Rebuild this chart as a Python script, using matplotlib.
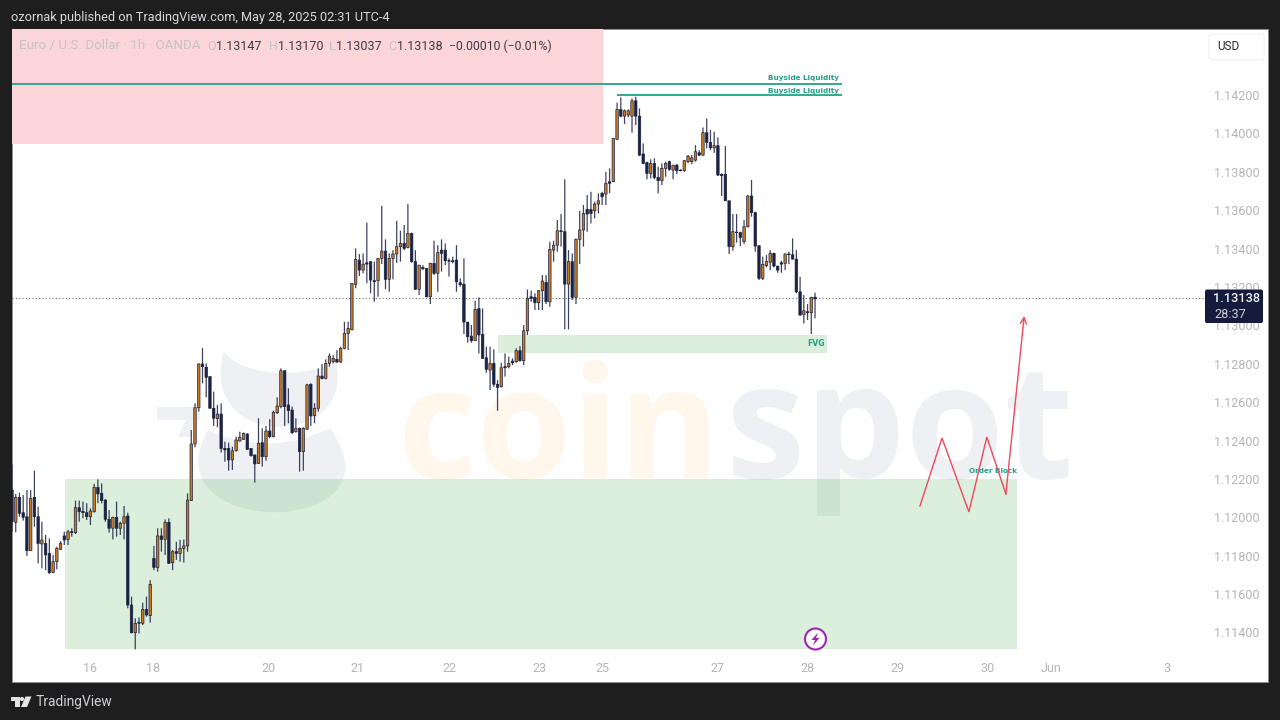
import numpy as np
import matplotlib
matplotlib.use("Agg")
import matplotlib.pyplot as plt
from matplotlib.patches import Rectangle, FancyBboxPatch, Polygon, PathPatch, Circle
from matplotlib.path import Path

# hourly EUR/USD bars, price x 100000
open_pts = [
112142,111974,112104,112024,112003,111826,112104,112003,111861,111864,
111812,111712,111769,111833,111903,111885,111925,111920,112050,112031,
112024,112003,112029,112156,112125,112090,111990,111943,112000,111943,
111969,112007,111543,111399,111453,111448,111520,111488,111786,111739,
111903,111885,111974,111764,111821,111812,111838,111851,112087,112382,
112571,112799,112782,112733,112568,112514,112538,112359,112359,112299,
112348,112398,112406,112434,112359,112325,112281,112389,112316,112450,
112420,112545,112577,112764,112585,112559,112446,112464,112342,112459,
112693,112530,112568,112736,112724,112802,112811,112823,112809,112880,
112958,112976,113214,113340,113288,113326,113332,113233,113233,113349,
113387,113240,113349,113372,113410,113427,113406,113479,113332,113188,
113302,113297,113149,113323,113271,113392,113392,113337,113337,113340,
113222,113214,113017,112944,112920,113087,112953,112831,112767,112802,
112693,112680,112785,112785,112814,112811,112868,112816,112972,113149,
113146,113118,113181,113224,113123,113392,113418,113493,113488,113215,
113332,113146,113448,113497,113604,113604,113597,113632,113688,113684,
113748,113748,113969,114125,114090,114096,114090,114170,114090,113893,
113848,113792,113844,113771,113754,113818,113853,113809,113835,113809,
113806,113853,113853,113861,113899,113887,114004,113953,113925,113936,
113787,113787,113649,113410,113486,113483,113436,113514,113674,113587,
113415,113245,113311,113329,113375,113309,113326,113323,113372,113368,
113345,113175,113057,113071,113066,113147]
high_pts = [
112273,112122,112128,112116,112142,112142,112243,112055,111977,111908,
111890,111804,111847,111877,111925,111934,111943,112087,112087,112082,
112073,112047,112174,112198,112177,112094,112038,112003,112082,111977,
112059,112024,111587,111474,111479,111555,111587,111673,111851,111943,
111943,111989,111995,111830,111873,111882,111885,112125,112455,112594,
112802,112881,112802,112733,112655,112585,112594,112394,112389,112368,
112420,112446,112441,112438,112359,112325,112516,112464,112476,112511,
112556,112625,112776,112764,112672,112577,112516,112467,112469,112695,
112698,112594,112776,112799,112823,112854,112845,112871,112889,113019,
113019,113219,113401,113372,113375,113535,113332,113332,113349,113622,
113448,113375,113392,113545,113493,113523,113632,113483,113392,113314,
113314,113297,113326,113441,113418,113448,113427,113349,113358,113418,
113245,113349,113017,113002,113128,113146,113088,112889,112889,112875,
112715,112805,112854,112837,112828,112880,112892,113002,113187,113181,
113167,113181,113262,113262,113436,113441,113549,113580,113761,113392,
113375,113453,113597,113627,113679,113696,113644,113688,113696,113800,
113818,113974,114160,114188,114125,114125,114182,114191,114130,113948,
113853,113865,113870,113827,113844,113853,113858,113835,113840,113813,
113861,113887,113887,113939,113913,114031,114078,114018,114009,113979,
113792,113934,113649,113580,113580,113488,113549,113679,113757,113592,
113415,113358,113366,113392,113379,113309,113337,113375,113384,113453,
113392,113253,113158,113111,113149,113170]
low_pts = [
111925,111922,112003,111983,111798,111826,111951,111760,111734,111725,
111705,111708,111729,111830,111856,111856,111899,111913,111977,111995,
111986,111960,112024,112073,112073,111977,111920,111885,111899,111908,
111885,111526,111395,111312,111395,111439,111482,111451,111725,111717,
111821,111804,111757,111725,111778,111769,111764,111821,112087,112365,
112551,112698,112625,112568,112476,112469,112337,112290,112243,112247,
112342,112394,112403,112351,112316,112181,112278,112264,112295,112412,
112417,112538,112568,112476,112490,112434,112441,112238,112243,112455,
112476,112490,112551,112719,112719,112785,112802,112805,112805,112875,
112871,112976,113193,113257,113271,113219,113167,113123,113149,113319,
113188,113175,113240,113326,113332,113392,113401,113326,113184,113158,
113288,113146,113111,113262,113175,113280,113314,113254,113323,113175,
113201,112955,112910,112910,112920,112854,112828,112753,112663,112680,
112555,112677,112733,112776,112793,112805,112811,112793,112950,113123,
113080,113080,113080,113111,113097,113332,113384,113410,112979,112979,
113132,113111,113319,113410,113488,113531,113557,113583,113627,113627,
113688,113748,113965,114084,114049,114084,114004,114044,113882,113840,
113761,113766,113761,113688,113731,113774,113806,113761,113788,113802,
113800,113844,113840,113853,113882,113882,113922,113913,113899,113778,
113674,113649,113372,113389,113431,113413,113424,113510,113566,113384,
113236,113236,113302,113288,113302,113274,113274,113288,113319,113344,
113167,113049,113010,113028,112955,113037]
close_pts = [
111977,112104,112021,112000,111826,112099,112003,111864,111882,111804,
111712,111769,111838,111864,111882,111925,111920,112050,112029,112024,
112003,112033,112156,112122,112087,111990,111943,112000,111943,111969,
112003,111543,111399,111448,111448,111520,111491,111651,111739,111903,
111885,111974,111760,111821,111812,111838,111851,112090,112382,112571,
112799,112785,112729,112568,112516,112538,112359,112351,112299,112346,
112403,112417,112438,112354,112321,112278,112386,112316,112450,112420,
112547,112580,112764,112577,112556,112441,112464,112342,112464,112690,
112528,112568,112736,112723,112802,112840,112828,112809,112880,112958,
112984,113219,113344,113288,113319,113319,113236,113227,113349,113387,
113240,113349,113372,113410,113427,113401,113479,113332,113188,113314,
113295,113149,113323,113271,113379,113375,113337,113334,113332,113227,
113212,113017,112941,112920,113083,112950,112828,112771,112802,112693,
112677,112779,112779,112802,112805,112868,112816,112972,113141,113141,
113118,113181,113231,113123,113396,113418,113493,113488,113215,113332,
113146,113448,113497,113583,113580,113583,113632,113649,113670,113740,
113740,113974,114125,114090,114118,114118,114170,114090,113887,113844,
113792,113844,113771,113754,113818,113844,113813,113835,113806,113806,
113858,113882,113873,113905,113887,114004,113953,113925,113936,113783,
113780,113649,113410,113488,113483,113458,113514,113674,113587,113413,
113245,113318,113332,113375,113309,113288,113319,113372,113368,113345,
113175,113054,113076,113066,113146,113138]

# axis labels
price_ticks = [1.142, 1.140, 1.138, 1.136, 1.134, 1.132, 1.130, 1.128,
               1.126, 1.124, 1.122, 1.120, 1.118, 1.116, 1.114]
date_labels = ["16", "18", "20", "21", "22", "23", "25", "27", "28", "29", "30", "Jun", "3"]
date_bars = [20.9, 37.8, 68.8, 92.6, 117.0, 141.1, 158.2, 189.0, 213.0, 237.2, 261.3, 278.2, 309.2]

# analyst drawings (bar number, price)
zigzag_bars = [243.1, 249.0, 256.2, 261.0, 266.1, 271.0]
zigzag_prices = [1.12059, 1.12413, 1.12028, 1.12418, 1.12121, 1.13049]
last_price = 1.13138

NAVY = "#1b2242"
ORANGE = "#c97a1e"
TEAL = "#22a08a"
RED = "#f0485c"
W, H = 1280, 720
FONT = "Roboto"

fig = plt.figure(figsize=(12.8, 7.2), dpi=100, facecolor="#1e1e1e")


def pixel_axes(z):
    a = fig.add_axes([0, 0, 1, 1], zorder=z)
    a.set_xlim(0, W)
    a.set_ylim(H, 0)
    a.axis("off")
    a.patch.set_alpha(0)
    return a


back = pixel_axes(0)
top = pixel_axes(5)

back.add_patch(Rectangle((12, 29), 1256, 653, fc="white", ec="#8c8c8c", lw=0.7))

# watermark
GR = "#eef0f3"
MOVE, CUR = Path.MOVETO, Path.CURVE4
up = Path([(224, 352), (245, 378), (305, 378), (336, 362), (356, 450), (196, 450), (224, 352)],
          [MOVE, CUR, CUR, CUR, CUR, CUR, CUR])
low = Path([(208, 430), (145, 540), (410, 540), (330, 428), (290, 448), (250, 448), (208, 430)],
           [MOVE, CUR, CUR, CUR, CUR, CUR, CUR])
back.add_patch(PathPatch(up, fc=GR, ec="none"))
back.add_patch(PathPatch(low, fc=GR, ec="none"))
back.add_patch(Polygon([(157, 407), (200, 407), (200, 420), (193, 420), (191, 437), (178, 437),
                        (186, 420), (157, 420)], fc=GR, ec="none"))
back.text(397, 478, "coin", fontsize=111, family="Open Sans", weight="bold",
          color="#fff6ec", ha="left", va="baseline")
back.text(726, 478, "spot", fontsize=115, family="Open Sans", weight="bold",
          color=GR, ha="left", va="baseline")

# main chart
ax = fig.add_axes([12 / W, (H - 682) / H, 1256 / W, 653 / H], zorder=2)
ax.patch.set_alpha(0)
ax.set_xlim(0, 336.28)
ax.set_ylim(1.11142, 1.14544)
for s in ax.spines.values():
    s.set_visible(False)

o = np.array(open_pts) / 1e5
c = np.array(close_pts) / 1e5
h = np.maximum(np.array(high_pts) / 1e5, np.maximum(o, c))
l = np.minimum(np.array(low_pts) / 1e5, np.minimum(o, c))
bars = np.arange(len(o))
up_bar = c >= o

# zones
ax.axvspan(0, 158.2, ymin=(1.13945 - 1.11142) / (1.14544 - 1.11142), ymax=1,
           fc="#fcd5d8", ec="none", zorder=1)
ax.add_patch(Rectangle((14.2, 1.11314), 254.8, 1.12197 - 1.11314, fc="#4caf50", alpha=0.2, ec="none", zorder=1))
ax.add_patch(Rectangle((130, 1.12856), 88.2, 1.1295 - 1.12856, fc="#4caf50", alpha=0.2, ec="none", zorder=1))

ax.hlines(last_price + 0.00004, 0, 319.4, color="#6f6f6f", lw=0.8, linestyles=(0, (1, 2)), zorder=2)

# candles
wicks = ax.vlines(bars, l, h, color=NAVY, lw=0.9, zorder=3, alpha=0.85)
wicks.set_snap(False)
rects = ax.bar(bars, np.abs(c - o), bottom=np.minimum(o, c), width=0.66,
               color=[ORANGE if u else NAVY for u in up_bar], edgecolor=NAVY, linewidth=0.5, zorder=4)
for r in rects:
    r.set_snap(False)

# liquidity lines
ax.hlines(1.14257, 0, 222.2, color=TEAL, lw=1.3, zorder=5)
ax.hlines(1.14200, 162, 222.2, color=TEAL, lw=1.3, zorder=5)
ax.text(221.4, 1.14257 + 0.00014, "Buyside Liquidity", fontsize=5.2, weight="bold", family="DejaVu Sans",
        color=TEAL, ha="right", va="bottom", zorder=6)
ax.text(221.4, 1.14200 + 0.00007, "Buyside Liquidity", fontsize=5.2, weight="bold", family="DejaVu Sans",
        color=TEAL, ha="right", va="bottom", zorder=6)
ax.text(217.6, 1.12903, "FVG", fontsize=5.6, weight="bold", family="DejaVu Sans",
        color=TEAL, ha="right", va="center", zorder=6)
ax.text(269, 1.12240, "Order Block", fontsize=5.2, weight="bold", family="DejaVu Sans",
        color=TEAL, ha="right", va="center", zorder=6)

# projected path
ax.plot(zigzag_bars[:-1], zigzag_prices[:-1], color=RED, lw=1.0, zorder=7, solid_joinstyle="miter")
ax.annotate("", xy=(zigzag_bars[-1], zigzag_prices[-1]), xytext=(zigzag_bars[-2], zigzag_prices[-2]),
            arrowprops=dict(arrowstyle="->,head_width=0.22,head_length=0.45", color=RED, lw=1.0,
                            shrinkA=0, shrinkB=0), zorder=7)

# axes
ax.yaxis.tick_right()
ax.set_yticks(price_ticks)
ax.set_yticklabels([f"{v:.5f}" for v in price_ticks], fontsize=9, family=FONT, color="#b5b5b5")
ax.tick_params(axis="y", length=0, pad=-39)
ax.set_xticks(date_bars)
ax.set_xticklabels(date_labels, fontsize=9, family=FONT, color="#b5b5b5")
ax.tick_params(axis="x", length=0, pad=-14.5)

# header and footer
top.text(11, 17, "ozornak published on TradingView.com, May 28, 2025 02:31 UTC-4",
         fontsize=9.15, family=FONT, color="#d6d8de", va="center", ha="left")
top.text(36, 702, "TradingView", fontsize=9.9, family=FONT, color="#cfd1d6", va="center", ha="left")
top.add_patch(Polygon([(11, 696.5), (19.5, 696.5), (19.5, 707), (15, 707), (15, 701), (11, 701)], fc="#e4e4e4", ec="none"))
top.add_patch(Circle((22, 699), 2.1, fc="#e4e4e4", ec="none"))
top.add_patch(Polygon([(25.5, 696.5), (31.5, 696.5), (27, 707), (21, 707)], fc="#e4e4e4", ec="none"))

# OHLC legend
LG, DK = "#c4c4c4", "#3b3b45"
for x, t, col, fs in [(19, "Euro / U.S. Dollar · 1h · OANDA", LG, 9.6), (207, "O", LG, 9), (216, "1.13147", DK, 9),
                      (269, "H", LG, 9), (278, "1.13170", DK, 9), (329, "L", LG, 9), (336, "1.13037", DK, 9),
                      (388, "C", LG, 9), (397, "1.13138", DK, 9), (449, "−0.00010 (−0.01%)", DK, 8.8)]:
    top.text(x, 46, t, fontsize=fs, family=FONT, color=col, va="center", ha="left")

# USD button
top.add_patch(FancyBboxPatch((1209, 34), 55, 26, boxstyle="round,pad=0,rounding_size=3", fc="white", ec="#f0f0f0", lw=0.8))
top.text(1217, 46.5, "USD", fontsize=8.5, family=FONT, color="#26262e", va="center", ha="left")

# last price tag
top.add_patch(FancyBboxPatch((1205, 289.5), 58, 33.5, boxstyle="round,pad=0,rounding_size=2", fc="#141b3c", ec="none"))
top.text(1236.5, 299, f"{last_price:.5f}", fontsize=9.2, family=FONT, weight="medium", color="#f2f2f5", va="center", ha="center")
top.text(1214, 314.5, "28:37", fontsize=9.2, family=FONT, color="#cfd0d8", va="center", ha="left")

# event marker
top.add_patch(Circle((815.5, 639), 10.5, fc="white", ec="#9c27b0", lw=1.5))
top.add_patch(Polygon([(818, 632.5), (811.5, 640), (815, 640), (813, 645.5), (819.5, 638), (816, 638)], fc="#9c27b0", ec="none"))

fig.savefig("out.png", dpi=100, facecolor=fig.get_facecolor())
